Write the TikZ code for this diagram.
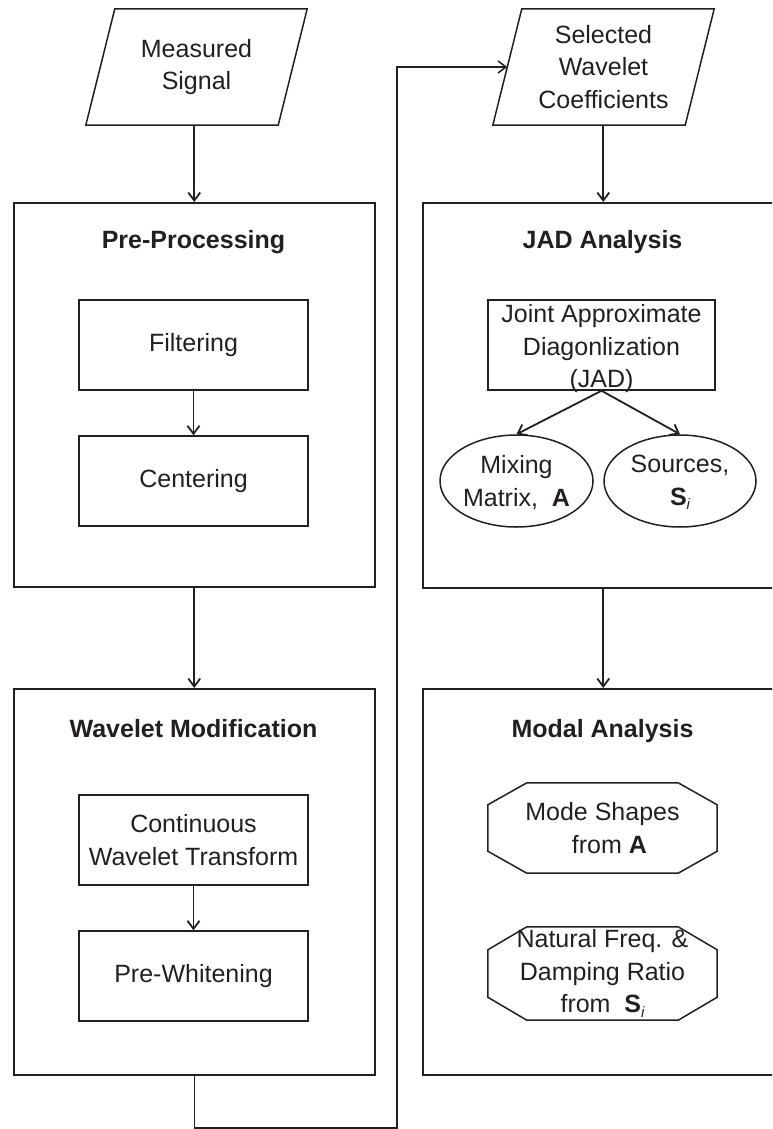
\documentclass[tikz,border=0pt]{standalone}
\usepackage{fontspec}
\setmainfont{Liberation Sans}
\usetikzlibrary{arrows.meta,shapes.geometric}
\definecolor{ink}{HTML}{231F20}
\newcommand{\subi}{\raisebox{-0.35ex}{\fontsize{15}{15}\selectfont\itshape i}}
\begin{document}
\begin{tikzpicture}[x=1pt,y=-1pt,
  every node/.style={font=\fontsize{25}{32.5}\selectfont, text=ink},
  line/.style={draw=ink, line width=1.5pt},
  arr/.style={draw=ink, line width=1.8pt, -{Straight Barb[length=8pt,width=12pt,line width=1.8pt]}},
  group/.style={line, rectangle, minimum width=361pt, inner sep=0pt, anchor=north west},
  title/.style={font=\fontsize{25}{30}\selectfont\bfseries, anchor=base, inner sep=0pt},
  procbox/.style={line, rectangle, minimum width=229pt, minimum height=90pt, inner sep=0pt, align=center},
  iobox/.style={rectangle, minimum width=192pt, minimum height=116pt, inner sep=0pt, align=center},
  octbox/.style={rectangle, minimum width=229pt, minimum height=90pt, inner sep=0pt, align=center},
  oval/.style={line, ellipse, minimum width=153pt, minimum height=92pt, inner sep=0pt},
  txt/.style={inner sep=0pt, align=center}
]
\useasboundingbox (0,0) rectangle (772,1129);
\clip (0,0) rectangle (772,1129);

% input / output parallelograms
\node[iobox] (ms) at (196.5,67) {Measured\\Signal};
\node[iobox] (sel) at (603.5,67) {Selected\\Wavelet\\Coefficients};
\foreach \p in {ms,sel}
  \draw[line] ([xshift=14.5pt]\p.north west) -- ([xshift=14.5pt]\p.north east)
    -- ([xshift=-14.5pt]\p.south east) -- ([xshift=-14.5pt]\p.south west) -- cycle;

% stage frames
\node[group, minimum height=384pt] (pre) at (13,202) {};
\node[group, minimum height=386pt] (wav) at (13,688) {};
\node[group, minimum height=385pt] (jad) at (422,202) {};
\node[group, minimum height=386pt] (modal) at (422,688) {};

\node[title] (pret) at (193.5,248) {Pre-Processing};
\node[title] (wavt) at (193.5,737) {Wavelet Modification};
\node[title] (jadt) at (602.5,248) {JAD Analysis};
\node[title] (modt) at (602.5,737) {Modal Analysis};

% pre-processing steps
\node[procbox] (filt) at (193.5,345) {Filtering};
\node[procbox] (cent) at (193.5,481) {Centering};

% wavelet steps
\node[procbox] (cwt) at (193.5,840) {Continuous\\Wavelet Transform};
\node[procbox] (pw) at (193.5,976) {Pre-Whitening};

% JAD analysis
\node[procbox, minimum width=227pt] (jadbox) at (601.5,345) {};
\node[txt] (jadtxt) at (601.5,349) {Joint Approximate\\Diagonlization\\(JAD)};
\node[oval] (mix) at (516.5,481) {};
\node[txt] (mixtxt) at (516.5,482.5) {Mixing\\Matrix,\ \ \textbf{A}};
\node[oval, minimum width=152pt] (src) at (680,481) {};
\node[txt] (srctxt) at (680,482.5) {Sources,\\\textbf{S}\subi};

% modal analysis
\node[octbox] (mode) at (602.5,828) {Mode Shapes\\\ \ from \textbf{A}};
\node[octbox, minimum height=93pt] (nat) at (602.5,973.5) {Natural Freq. \&\\Damping Ratio\\from\ \ \textbf{S}\subi};
\foreach \o/\cy in {mode/22pt,nat/23pt}
  \draw[line] ([xshift=39pt]\o.north west) -- ([xshift=-39pt]\o.north east)
    -- ([yshift=-\cy]\o.north east) -- ([yshift=\cy]\o.south east)
    -- ([xshift=-39pt]\o.south east) -- ([xshift=39pt]\o.south west)
    -- ([yshift=\cy]\o.south west) -- ([yshift=-\cy]\o.north west) -- cycle;

% connectors
\coordinate (fbturn) at (397,1128);
\draw[arr] (ms.south -| pre.north) -- (pre.north);
\draw[arr] (filt) -- (cent);
\draw[arr] (pre) -- (wav);
\draw[arr] (cwt) -- (pw);
\draw[line, -{Straight Barb[length=8pt,width=12pt,line width=1.5pt]}] (wav.south) |- (fbturn) |- (sel.west);
\draw[arr] (sel.south -| jad.north) -- (jad.north);
\draw[arr] (jadbox.south) -- (mix.north);
\draw[arr] (jadbox.south) -- (src.north);
\draw[arr] (jad) -- (modal);
\end{tikzpicture}
\end{document}
